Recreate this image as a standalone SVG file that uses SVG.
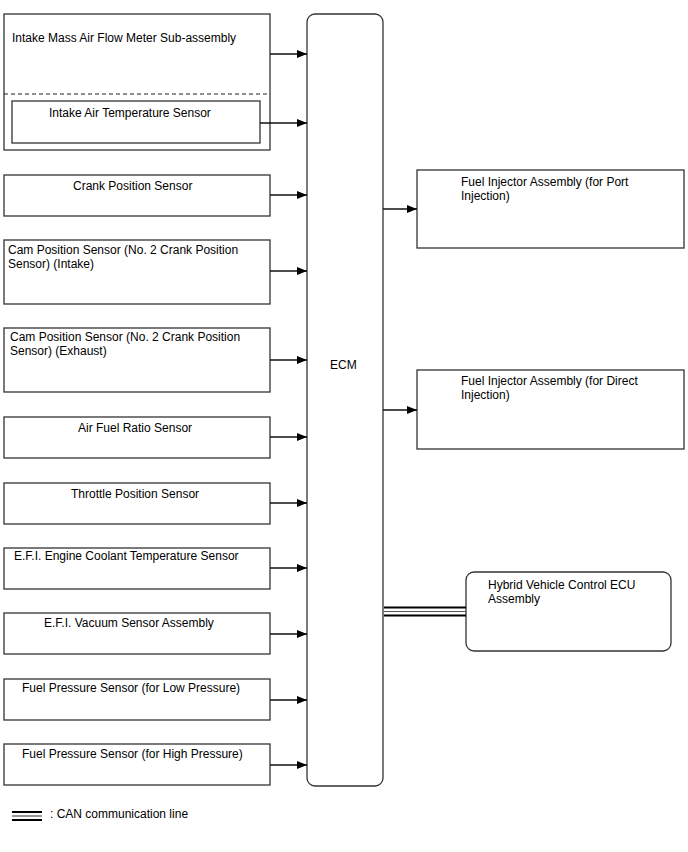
<svg xmlns="http://www.w3.org/2000/svg" width="688" height="852" viewBox="0 0 688 852">
<style>
.box{fill:#fff;stroke:#333;stroke-width:1.3}
.t{font-family:"Liberation Sans",Arial,sans-serif;font-size:12px;fill:#000}
.c{stroke:#111;stroke-width:1.3;fill:none;marker-end:url(#ah)}
</style>
<defs>
<marker id="ah" viewBox="0 0 10 8" refX="10" refY="4" markerWidth="10" markerHeight="8" markerUnits="userSpaceOnUse" orient="auto">
<path d="M0,0 L10,4 L0,8 Z" fill="#000"/>
</marker>
</defs>
<rect width="688" height="852" fill="#fff"/>
<g id="maf">
<rect class="box" x="4" y="14" width="266" height="136"/>
<line x1="4" y1="94" x2="270" y2="94" stroke="#222" stroke-width="1" stroke-dasharray="4,3"/>
<text class="t" x="12" y="42">Intake Mass Air Flow Meter Sub-assembly</text>
</g>
<g id="iat">
<rect class="box" x="12" y="101" width="248" height="42"/>
<text class="t" x="49" y="117">Intake Air Temperature Sensor</text>
</g>
<g id="crank">
<rect class="box" x="4" y="175" width="266" height="41"/>
<text class="t" x="73" y="190">Crank Position Sensor</text>
</g>
<g id="cam-in">
<rect class="box" x="4" y="240" width="266" height="64"/>
<text class="t" x="8" y="254">Cam Position Sensor (No. 2 Crank Position</text>
<text class="t" x="8" y="268">Sensor) (Intake)</text>
</g>
<g id="cam-ex">
<rect class="box" x="4" y="328" width="266" height="64"/>
<text class="t" x="10" y="341">Cam Position Sensor (No. 2 Crank Position</text>
<text class="t" x="10" y="355">Sensor) (Exhaust)</text>
</g>
<g id="afr">
<rect class="box" x="4" y="417" width="266" height="41"/>
<text class="t" x="78" y="432">Air Fuel Ratio Sensor</text>
</g>
<g id="tps">
<rect class="box" x="4" y="483" width="266" height="41"/>
<text class="t" x="71" y="498">Throttle Position Sensor</text>
</g>
<g id="ect">
<rect class="box" x="4" y="548" width="266" height="41"/>
<text class="t" x="14" y="560">E.F.I. Engine Coolant Temperature Sensor</text>
</g>
<g id="vac">
<rect class="box" x="4" y="613" width="266" height="41"/>
<text class="t" x="44" y="627">E.F.I. Vacuum Sensor Assembly</text>
</g>
<g id="fpl">
<rect class="box" x="4" y="679" width="266" height="41"/>
<text class="t" x="22" y="692">Fuel Pressure Sensor (for Low Pressure)</text>
</g>
<g id="fph">
<rect class="box" x="4" y="744" width="266" height="41"/>
<text class="t" x="22" y="758">Fuel Pressure Sensor (for High Pressure)</text>
</g>
<g id="ecm">
<rect class="box" x="307" y="14" width="76" height="772" rx="8"/>
<text class="t" x="330" y="369">ECM</text>
</g>
<g id="inj-port">
<rect class="box" x="417" y="170" width="267" height="78"/>
<text class="t" x="461" y="186">Fuel Injector Assembly (for Port</text>
<text class="t" x="461" y="200">Injection)</text>
</g>
<g id="inj-direct">
<rect class="box" x="417" y="370" width="267" height="79"/>
<text class="t" x="461" y="385">Fuel Injector Assembly (for Direct</text>
<text class="t" x="461" y="399">Injection)</text>
</g>
<g id="hv">
<rect class="box" x="466" y="572" width="205" height="79" rx="8"/>
<text class="t" x="488" y="589">Hybrid Vehicle Control ECU</text>
<text class="t" x="488" y="603">Assembly</text>
</g>
<g id="connectors">
<line class="c" x1="270" y1="54" x2="307" y2="54"/>
<line class="c" x1="260" y1="123" x2="307" y2="123"/>
<line class="c" x1="270" y1="195" x2="307" y2="195"/>
<line class="c" x1="270" y1="271" x2="307" y2="271"/>
<line class="c" x1="270" y1="360" x2="307" y2="360"/>
<line class="c" x1="270" y1="437" x2="307" y2="437"/>
<line class="c" x1="270" y1="503" x2="307" y2="503"/>
<line class="c" x1="270" y1="568" x2="307" y2="568"/>
<line class="c" x1="270" y1="634" x2="307" y2="634"/>
<line class="c" x1="270" y1="700" x2="307" y2="700"/>
<line class="c" x1="270" y1="765" x2="307" y2="765"/>
<line class="c" x1="383" y1="209" x2="417" y2="209"/>
<line class="c" x1="383" y1="410" x2="417" y2="410"/>
<g id="can" stroke-width="2">
<line x1="384" y1="607.5" x2="466" y2="607.5" stroke="#000"/>
<line x1="384" y1="611.5" x2="466" y2="611.5" stroke="#555" stroke-width="1.2"/>
<line x1="384" y1="615.5" x2="466" y2="615.5" stroke="#000"/>
</g>
</g>
<g id="legend">
<line x1="12" y1="812" x2="42" y2="812" stroke="#000" stroke-width="2"/>
<line x1="12" y1="816" x2="42" y2="816" stroke="#555" stroke-width="1.2"/>
<line x1="12" y1="820" x2="42" y2="820" stroke="#000" stroke-width="2"/>
<text class="t" x="50" y="818">: CAN communication line</text>
</g>
</svg>
